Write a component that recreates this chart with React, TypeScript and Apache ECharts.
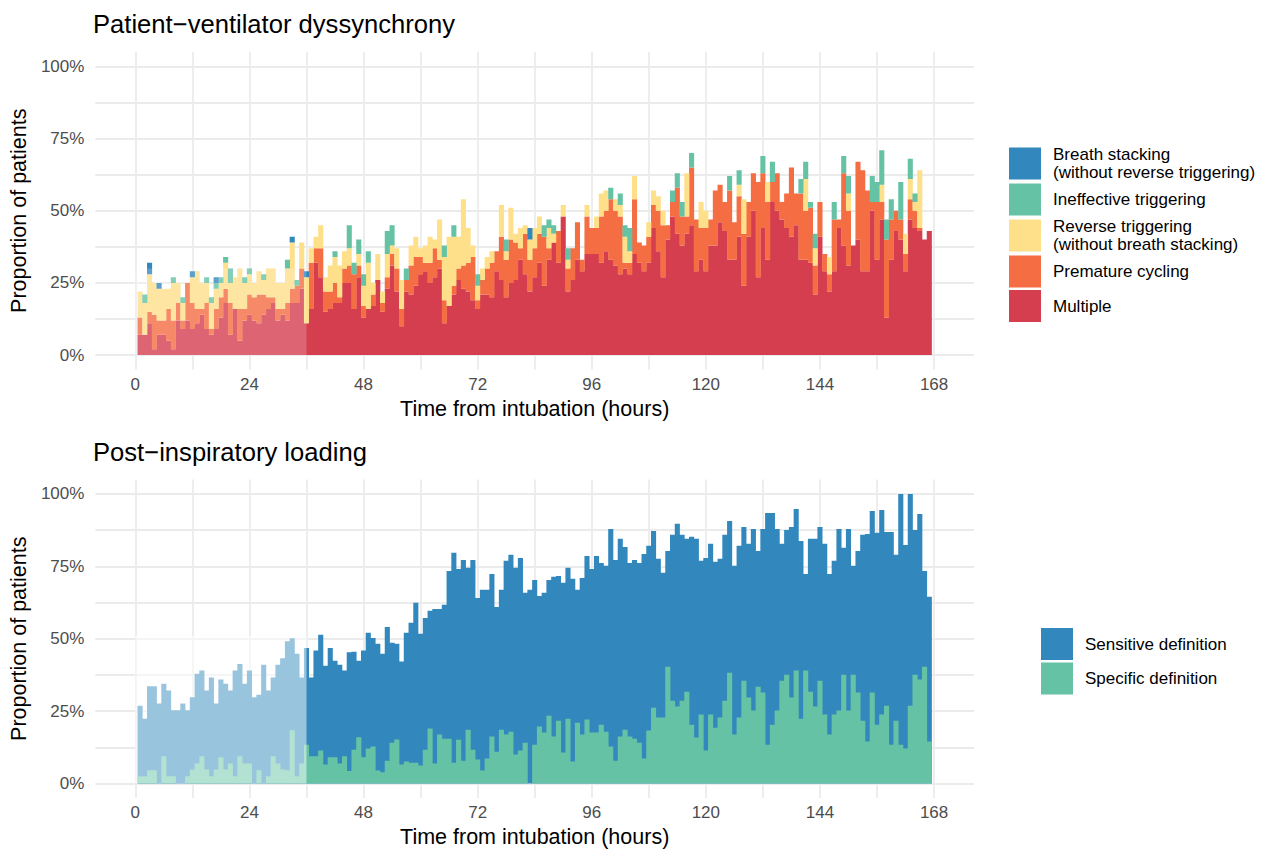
import React, { useEffect, useRef } from 'react';
import * as echarts from 'echarts';

// Hours after intubation (bar centres)
const hours: number[] = Array.from({ length: 167 }, (_, i) => i + 1);

// ---------- Top panel: Patient−ventilator dyssynchrony (% of patients) ----------
const multiple: number[] = [
  7, 7, 11, 2, 7, 7, 5, 2, 12, 9,
  12, 9, 11, 14, 9, 7, 9, 13, 18, 7,
  16, 5, 12, 14, 12, 11, 14, 16, 18, 12,
  14, 12, 18, 18, 23, 11, 16, 32, 27, 15,
  16, 18, 18, 25, 25, 16, 27, 13, 16, 17,
  26, 15, 23, 31, 22, 10, 22, 21, 24, 28,
  29, 25, 27, 30, 11, 17, 21, 26, 23, 22,
  19, 16, 21, 21, 20, 29, 26, 20, 25, 26,
  33, 28, 22, 27, 32, 24, 33, 39, 32, 48,
  22, 26, 33, 29, 35, 35, 35, 32, 36, 33,
  31, 28, 30, 28, 35, 32, 29, 32, 44, 36,
  27, 40, 48, 42, 38, 42, 45, 29, 33, 29,
  38, 38, 46, 43, 33, 33, 41, 24, 41, 50,
  27, 44, 33, 53, 50, 47, 44, 41, 45, 33,
  33, 32, 21, 41, 29, 22, 29, 44, 38, 31,
  38, 40, 29, 29, 50, 33, 47, 13, 33, 43,
  40, 29, 47, 44, 43, 40, 43,
];
const premature: number[] = [
  6, 0, 4, 12, 5, 5, 11, 10, 6, 3,
  13, 9, 5, 2, 9, 2, 7, 7, 5, 11,
  0, 11, 4, 7, 8, 10, 7, 4, 2, 4,
  2, 6, 5, 6, 7, 0, 16, 5, 10, 7,
  6, 7, 2, 5, 6, 12, 4, 4, 0, 4,
  0, 3, 4, 4, 8, 6, 4, 10, 10, 6,
  3, 7, 10, 3, 8, 0, 3, 4, 8, 10,
  15, 3, 5, 9, 12, 7, 15, 13, 15, 13,
  4, 14, 11, 10, 10, 17, 4, 0, 11, 0,
  8, 11, 13, 4, 13, 9, 9, 16, 14, 21,
  19, 20, 2, 4, 19, 7, 9, 9, 8, 14,
  18, 5, 5, 16, 10, 6, 20, 18, 11, 15,
  9, 19, 13, 10, 24, 13, 14, 18, 12, 13,
  33, 19, 20, 7, 13, 6, 12, 24, 11, 23,
  17, 19, 10, 12, 6, 6, 18, 3, 25, 19,
  0, 27, 35, 28, 3, 20, 6, 27, 14, 7,
  7, 6, 7, 6, 1, 0, 0,
];
const reverse: number[] = [
  9, 11, 13, 11, 11, 11, 7, 13, 7, 6,
  0, 9, 13, 9, 7, 9, 7, 5, 9, 7,
  11, 14, 9, 7, 5, 8, 5, 10, 10, 9,
  9, 12, 16, 0, 9, 16, 5, 4, 8, 5,
  9, 9, 11, 6, 6, 0, 4, 7, 16, 4,
  9, 4, 8, 3, 7, 10, 0, 7, 7, 3,
  6, 9, 3, 14, 15, 24, 17, 11, 23, 12,
  4, 5, 4, 4, 4, 0, 11, 3, 11, 3,
  7, 3, 7, 7, 6, 0, 7, 3, 0, 4,
  3, 0, 0, 0, 4, 0, 4, 8, 7, 0,
  4, 4, 9, 4, 8, 0, 0, 5, 5, 5,
  5, 0, 0, 0, 0, 15, 0, 0, 9, 6,
  0, 0, 0, 0, 0, 0, 4, 12, 0, 0,
  0, 0, 7, 0, 0, 0, 0, 0, 0, 0,
  11, 0, 6, 0, 0, 6, 0, 0, 0, 6,
  0, 0, 0, 0, 0, 0, 6, 0, 0, 0,
  0, 7, 7, 3, 20, 0, 0,
];
const ineffective: number[] = [
  0, 3, 0, 0, 0, 0, 0, 2, 0, 2,
  0, 0, 0, 0, 2, 2, 2, 2, 2, 5,
  0, 0, 2, 2, 0, 0, 2, 0, 0, 0,
  0, 3, 0, 2, 0, 0, 0, 0, 0, 0,
  0, 2, 0, 0, 8, 4, 5, 4, 4, 0,
  0, 0, 8, 7, 0, 0, 4, 0, 0, 0,
  0, 0, 0, 0, 4, 0, 4, 0, 0, 0,
  0, 4, 0, 0, 0, 0, 0, 4, 0, 0,
  0, 0, 0, 0, 0, 4, 3, 3, 0, 0,
  4, 0, 0, 0, 0, 0, 0, 0, 0, 4,
  0, 4, 4, 8, 0, 0, 0, 0, 0, 0,
  0, 0, 4, 5, 5, 0, 5, 0, 0, 0,
  0, 0, 0, 0, 5, 0, 5, 0, 0, 0,
  0, 6, 0, 7, 0, 0, 0, 0, 0, 5,
  6, 2, 5, 0, 0, 0, 6, 0, 6, 6,
  0, 0, 0, 0, 9, 7, 12, 7, 7, 0,
  13, 0, 7, 3, 0, 0, 0,
];
const breathStacking: number[] = [
  0, 0, 4, 0, 2, 0, 0, 0, 0, 0,
  0, 2, 0, 0, 0, 0, 2, 0, 0, 0,
  0, 0, 0, 0, 0, 0, 0, 0, 0, 0,
  0, 0, 2, 0, 0, 2, 0, 0, 0, 0,
  0, 0, 0, 0, 0, 0, 0, 0, 0, 0,
  0, 0, 0, 0, 0, 0, 0, 0, 0, 0,
  0, 0, 0, 0, 0, 0, 0, 0, 0, 0,
  0, 0, 0, 0, 0, 0, 0, 0, 0, 0,
  0, 0, 4, 0, 0, 0, 0, 0, 0, 0,
  0, 0, 0, 0, 0, 0, 0, 0, 0, 0,
  0, 0, 0, 0, 0, 0, 0, 0, 0, 0,
  0, 0, 0, 0, 0, 0, 0, 0, 0, 0,
  0, 0, 0, 0, 0, 0, 0, 0, 0, 0,
  0, 0, 0, 0, 0, 0, 0, 0, 0, 0,
  0, 0, 0, 0, 0, 0, 0, 0, 0, 0,
  0, 0, 0, 0, 0, 0, 0, 0, 0, 0,
  0, 0, 0, 0, 0, 0, 0,
];

// ---------- Bottom panel: Post−inspiratory loading (% of patients) ----------
const sensitive: number[] = [
  26.9, 22.4, 33.6, 33.6, 27.6, 34.5, 32.1, 25.3, 25.3, 27.6,
  25.3, 29.8, 37.9, 39, 32.1, 36.6, 27.6, 35.9, 34.5, 32.1,
  39, 41.3, 34.5, 39, 29.8, 30.7, 41, 32.1, 36.6, 41,
  43.3, 49.1, 50.2, 44.8, 36.6, 46.8, 36.6, 45.9, 51.4, 40.7,
  46.8, 42.4, 41, 39, 45.3, 45.5, 42.4, 45.9, 52.1, 50.3,
  48.3, 44.8, 54.1, 48.6, 48.3, 42.1, 52.1, 55.5, 62.4, 51.7,
  57.2, 59.7, 60.3, 60.3, 61.7, 73.4, 79.7, 74.1, 77.2, 74.5,
  77.2, 64.1, 66.9, 66.9, 72.4, 61, 66.9, 76.9, 79, 74.5,
  77.9, 65.9, 66.9, 70.3, 64.8, 65.9, 70.3, 71.4, 71.7, 69.3,
  74.5, 70.7, 66.9, 71, 78.6, 74.1, 78.6, 76.2, 75.2, 87.9,
  77.2, 84.5, 81.7, 76.2, 77.2, 76.2, 79.3, 82.1, 87.2, 77.6,
  72.8, 80.3, 85.9, 89.7, 85.9, 84.5, 85.2, 84.5, 76.9, 77.9,
  82.8, 76.6, 77.6, 85.9, 90.7, 75.2, 82.1, 88.6, 82.8, 87.9,
  80.3, 87.9, 93.4, 93.4, 87.9, 82.8, 87.6, 88.6, 94.8, 83.8,
  72.4, 84.5, 84.5, 88.6, 82.8, 72.4, 76.9, 87.9, 81.4, 87.9,
  75.2, 80.3, 85.9, 86.2, 94.1, 86.6, 94.5, 86.9, 86.9, 79,
  100, 82.4, 100, 87.6, 93.1, 73.4, 64.5,
];
const specific: number[] = [
  2.5, 2.5, 4.6, 4.6, 0, 9.4, 2.5, 2.5, 0, 0,
  2.5, 4.8, 6.9, 9.4, 4.8, 2.5, 4.8, 9.1, 4.8, 6.9,
  2.5, 9.4, 6.9, 6.9, 0, 4.6, 0, 2.5, 9.4, 6.9,
  4.8, 4.6, 18.4, 2.5, 6.9, 13.4, 9.4, 9.4, 11.4, 6.6,
  9.1, 9.1, 6.9, 9.4, 4.3, 11.7, 16, 9.1, 12.1, 12.8,
  4.5, 3.9, 7.9, 14.1, 15.2, 6.6, 7.6, 7.2, 7.2, 6.2,
  11.7, 19, 6.9, 16.9, 15.5, 15.5, 7.2, 15.1, 7.9, 18.6,
  11.7, 8.3, 4.5, 8.6, 16.2, 11, 18.6, 16.9, 17.9, 10,
  11.4, 14.1, 0, 13.4, 19.7, 17.6, 23.4, 16.2, 21.7, 10.7,
  22.4, 7.6, 21, 16.9, 22.1, 17.6, 17.6, 20.3, 17.9, 12.8,
  7.9, 16.2, 18.6, 16.2, 15.5, 14.1, 8.6, 18.3, 26.2, 22.8,
  22.8, 40.3, 28.6, 26.6, 28.6, 31.7, 20.3, 15.9, 23.8, 11.4,
  23.8, 19.3, 22.8, 28.6, 38.3, 16.9, 22.8, 35.5, 29.7, 25.2,
  33.4, 31.4, 13.4, 20.3, 25.2, 35.5, 37.6, 29.7, 39, 22.4,
  39, 31.7, 26.6, 35.5, 23.8, 16.9, 23.8, 25.2, 37.6, 25.2,
  37.6, 31.4, 21.7, 14.5, 31.4, 20.3, 23.8, 26.9, 13.4, 21.7,
  13.4, 12.1, 26.9, 37.6, 35.9, 40.3, 14.5,
];

// Axis ticks / gridlines
const xTickLabels: number[] = [0, 24, 48, 72, 96, 120, 144, 168];
const xGridLines: number[] = [0, 12, 24, 36, 48, 60, 72, 84, 96, 108, 120, 132, 144, 156, 168];
const yTickLabels: number[] = [0, 25, 50, 75, 100];
const yGridLines: number[] = [0, 12.5, 25, 37.5, 50, 62.5, 75, 87.5, 100];

// Faded early period (xmin, xmax, ymin, ymax)
const fadeTop: number[] = [0, 36, 0, 30];
const fadeBottom: number[] = [0, 36, 0, 51];

const NAMES = {
  breath: 'Breath stacking\n(without reverse triggering)',
  ineff: 'Ineffective triggering',
  reverse: 'Reverse triggering\n(without breath stacking)',
  premature: 'Premature cycling',
  multiple: 'Multiple',
  sens: 'Sensitive definition',
  spec: 'Specific definition',
};

const COLORS = {
  red: '#D53E4F',
  orange: '#F46D43',
  yellow: '#FEE08B',
  green: '#66C2A5',
  blue: '#3288BD',
};

const FONT = '"Liberation Sans", Arial, Helvetica, sans-serif';

// value first (so that stacking happens on the value dimension), hour second
const pairs = (vals: number[]) => hours.map((h, i) => [vals[i], h]);

function xAxisCfg(gridIndex: number) {
  return {
    type: 'value',
    gridIndex,
    min: -8.4,
    max: 176.4,
    axisLine: { show: false },
    axisTick: { show: false, customValues: xGridLines },
    axisLabel: {
      customValues: xTickLabels,
      color: '#4D4D4D',
      fontSize: 17,
      fontFamily: FONT,
      margin: 6,
    },
    splitLine: { show: true, lineStyle: { color: '#EBEBEB', width: 1.8 } },
    name: 'Time from intubation (hours)',
    nameLocation: 'middle',
    nameGap: 28,
    nameTextStyle: { fontSize: 21.5, color: '#000', fontFamily: FONT },
  };
}

function yAxisCfg(gridIndex: number) {
  return {
    type: 'value',
    gridIndex,
    min: -5,
    max: 105,
    axisLine: { show: false },
    axisTick: { show: false, customValues: yGridLines },
    axisLabel: {
      customValues: yTickLabels,
      formatter: (v: number) => `${v}%`,
      color: '#4D4D4D',
      fontSize: 17,
      fontFamily: FONT,
      margin: 11,
    },
    splitLine: { show: true, lineStyle: { color: '#EBEBEB', width: 1.8 } },
    name: 'Proportion of patients',
    nameLocation: 'middle',
    nameGap: 56,
    nameRotate: 90,
    nameTextStyle: { fontSize: 21.5, color: '#000', fontFamily: FONT },
  };
}

function fadeSeries(idx: number, region: number[], alpha: number) {
  return {
    type: 'custom',
    xAxisIndex: idx,
    yAxisIndex: idx,
    z: 5,
    silent: true,
    data: [region],
    encode: { x: [0, 1], y: [2, 3] },
    renderItem: (_p: any, api: any) => {
      const a = api.coord([api.value(0), api.value(3)]);
      const b = api.coord([api.value(1), api.value(2)]);
      return {
        type: 'rect',
        shape: { x: a[0], y: a[1], width: b[0] - a[0], height: b[1] - a[1] },
        style: { fill: `rgba(255,255,255,${alpha})` },
      };
    },
  };
}

function barSeries(name: string, vals: number[], color: string, idx: number, stack?: string) {
  return {
    type: 'bar',
    name,
    xAxisIndex: idx,
    yAxisIndex: idx,
    stack,
    data: pairs(vals),
    encode: { x: 1, y: 0 },
    barWidth: '100%',
    barMinWidth: 5.1,
    barGap: '-100%',
    large: true,
    largeThreshold: 50,
    silent: true,
    itemStyle: { color },
  };
}

export default function App() {
  const ref = useRef<HTMLDivElement>(null);

  useEffect(() => {
    document.body.style.margin = '0';
    if (!ref.current) return;
    const chart = echarts.init(ref.current, undefined, { renderer: 'svg' });
    const titleStyle = { fontSize: 25.6, fontWeight: 'normal', color: '#000', fontFamily: FONT };
    const legendText = { fontSize: 17, color: '#000', fontFamily: FONT, lineHeight: 17.5, padding: [0, 0, 0, 7] };
    chart.setOption({
      animation: false,
      backgroundColor: '#FFFFFF',
      title: [
        { text: 'Patient−ventilator dyssynchrony', left: 93, top: 11, padding: 0, textStyle: titleStyle },
        { text: 'Post−inspiratory loading', left: 93, top: 439, padding: 0, textStyle: titleStyle },
      ],
      legend: [
        {
          data: [NAMES.breath, NAMES.ineff, NAMES.reverse, NAMES.premature, NAMES.multiple],
          orient: 'vertical',
          left: 1009,
          top: 146,
          itemWidth: 32,
          itemHeight: 32,
          itemGap: 2.5,
          icon: 'rect',
          selectedMode: false,
          padding: 0,
          textStyle: legendText,
        },
        {
          data: [NAMES.sens, NAMES.spec],
          orient: 'vertical',
          left: 1041,
          top: 628,
          itemWidth: 32,
          itemHeight: 32,
          itemGap: 2.5,
          icon: 'rect',
          selectedMode: false,
          padding: 0,
          textStyle: legendText,
        },
      ],
      grid: [
        { left: 94, top: 52, width: 880, height: 317.5 },
        { left: 94, top: 479.5, width: 880, height: 319 },
      ],
      xAxis: [xAxisCfg(0), xAxisCfg(1)],
      yAxis: [yAxisCfg(0), yAxisCfg(1)],
      series: [
        barSeries(NAMES.multiple, multiple, COLORS.red, 0, 'dys'),
        barSeries(NAMES.premature, premature, COLORS.orange, 0, 'dys'),
        barSeries(NAMES.reverse, reverse, COLORS.yellow, 0, 'dys'),
        barSeries(NAMES.ineff, ineffective, COLORS.green, 0, 'dys'),
        barSeries(NAMES.breath, breathStacking, COLORS.blue, 0, 'dys'),
        fadeSeries(0, fadeTop, 0.2),
        barSeries(NAMES.sens, sensitive, COLORS.blue, 1),
        barSeries(NAMES.spec, specific, COLORS.green, 1),
        fadeSeries(1, fadeBottom, 0.5),
      ],
    });
    return () => chart.dispose();
  }, []);

  return <div ref={ref} style={{ width: 1266, height: 849 }} />;
}
